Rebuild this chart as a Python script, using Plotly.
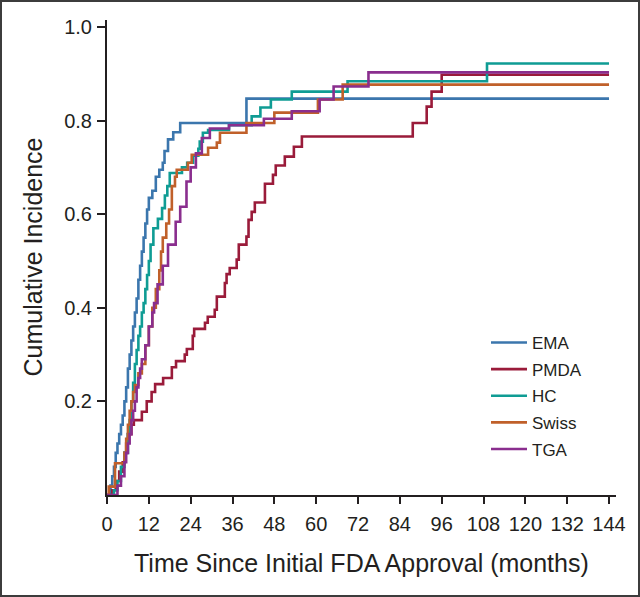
import plotly.graph_objects as go

# ---- data (months since FDA approval, cumulative incidence) ----
ema_t = [0, 1, 1.5, 2, 2.5, 3, 3.5, 4, 4.5, 5, 5.5, 6, 6.5, 7, 7.5, 8, 8.5, 9, 9.5, 10, 10.5, 11, 11.5, 12, 13, 14, 15, 16, 16.5, 17.5, 19, 21, 40, 144]
ema_v = [0, 0.02, 0.04, 0.06, 0.09, 0.11, 0.13, 0.15, 0.17, 0.2, 0.23, 0.27, 0.3, 0.33, 0.36, 0.39, 0.42, 0.46, 0.49, 0.52, 0.55, 0.58, 0.61, 0.635, 0.65, 0.68, 0.695, 0.71, 0.735, 0.76, 0.775, 0.795, 0.847, 0.847]

pmda_t = [0, 1.5, 2.5, 3.5, 4.5, 5, 5.5, 6, 7, 7.7, 10, 11.4, 12.8, 13.8, 16.1, 18.6, 19.8, 22.3, 22.9, 24.6, 25, 28.1, 28.9, 30.9, 31.5, 33.8, 34.3, 35.2, 37.2, 37.8, 40, 40.6, 41.5, 42.4, 45.3, 47.6, 48.4, 51, 53.6, 55.9, 87.7, 91.7, 93.1, 96, 144]
pmda_v = [0, 0.01, 0.03, 0.05, 0.07, 0.09, 0.11, 0.13, 0.15, 0.16, 0.178, 0.2, 0.22, 0.237, 0.25, 0.273, 0.286, 0.3, 0.312, 0.34, 0.355, 0.368, 0.381, 0.396, 0.424, 0.453, 0.472, 0.485, 0.503, 0.535, 0.552, 0.588, 0.605, 0.625, 0.665, 0.684, 0.704, 0.723, 0.744, 0.766, 0.795, 0.83, 0.862, 0.898, 0.898]

hc_t = [0, 2, 3, 4, 5, 6, 6.5, 7, 7.5, 8, 8.5, 9, 9.5, 10, 10.5, 11, 11.5, 12, 12.5, 13.3, 14.6, 15.8, 16.6, 17.3, 18, 21.5, 23, 24.7, 26.2, 26.6, 27.5, 29, 35, 41.5, 44, 47, 53, 69, 109, 144]
hc_v = [0, 0.01, 0.03, 0.06, 0.09, 0.13, 0.16, 0.2, 0.24, 0.28, 0.31, 0.34, 0.36, 0.39, 0.41, 0.44, 0.47, 0.5, 0.535, 0.57, 0.59, 0.613, 0.64, 0.66, 0.688, 0.70, 0.71, 0.725, 0.74, 0.755, 0.774, 0.78, 0.79, 0.809, 0.828, 0.845, 0.862, 0.884, 0.922, 0.922]

swiss_t = [0, 0.5, 2.3, 5, 5.5, 6, 6.5, 7, 7.5, 8, 9, 10, 11, 12, 13, 14, 15, 15.5, 16, 17, 17.8, 18.6, 19.5, 20, 23.2, 24.3, 29, 31.5, 32.4, 40, 48, 60.5, 67.6, 144]
swiss_v = [0, 0.018, 0.068, 0.09, 0.12, 0.15, 0.18, 0.2, 0.22, 0.235, 0.26, 0.28, 0.32, 0.36, 0.4, 0.44, 0.48, 0.52, 0.55, 0.58, 0.61, 0.66, 0.68, 0.695, 0.71, 0.727, 0.742, 0.753, 0.774, 0.795, 0.817, 0.845, 0.877, 0.877]

tga_t = [0, 3, 4, 5, 5.5, 6, 6.5, 7, 7.5, 8, 8.5, 9, 9.5, 10, 11, 12, 13, 13.5, 14.5, 16, 17.5, 19.7, 21, 22.8, 24, 25.5, 27.2, 29.5, 35, 45, 53, 61, 65, 75, 144]
tga_v = [0, 0.02, 0.04, 0.07, 0.09, 0.11, 0.13, 0.16, 0.18, 0.2, 0.23, 0.25, 0.27, 0.29, 0.32, 0.36, 0.39, 0.41, 0.45, 0.49, 0.535, 0.584, 0.616, 0.67, 0.70, 0.73, 0.763, 0.783, 0.79, 0.804, 0.82, 0.845, 0.873, 0.903, 0.903]

series_names = ["EMA", "PMDA", "HC", "Swiss", "TGA"]
series_t = [ema_t, pmda_t, hc_t, swiss_t, tga_t]
series_v = [ema_v, pmda_v, hc_v, swiss_v, tga_v]
series_colors = ["#3b76ad", "#9a1b3a", "#0f9c94", "#c0602a", "#8a2e8e"]

x_ticks = [0, 12, 24, 36, 48, 60, 72, 84, 96, 108, 120, 132, 144]
y_ticks = [0.2, 0.4, 0.6, 0.8, 1.0]
y_tick_labels = ["0.2", "0.4", "0.6", "0.8", "1.0"]

# ---- layout geometry (pixels) ----
W, H = 640, 597
ML, MR, MT, MB = 107, 24, 20, 102
PW, PH = W - ML - MR, H - MT - MB


def px_x(p):
    return (p - ML) / PW


def px_y(p):
    return (H - MB - p) / PH


FONT = "Liberation Sans, Arial, sans-serif"
INK = "#231f20"

fig = go.Figure()
for name, t, v, c in zip(series_names, series_t, series_v, series_colors):
    fig.add_trace(go.Scatter(
        x=t, y=v, mode="lines", name=name,
        line=dict(color=c, width=2.6, shape="hv"),
        legendgroup=name,
    ))

fig.update_layout(
    width=W, height=H,
    margin=dict(l=ML, r=MR, t=MT, b=MB, pad=0),
    paper_bgcolor="white", plot_bgcolor="white",
    font=dict(family=FONT, color=INK),
    showlegend=True,
    legend=dict(
        x=px_x(486), y=px_y(325), xanchor="left", yanchor="top",
        font=dict(size=17, family=FONT, color=INK),
        bgcolor="rgba(0,0,0,0)", borderwidth=0,
        itemwidth=36, tracegroupgap=1.5, traceorder="grouped",
    ),
    xaxis=dict(
        range=[0, 146], tickvals=x_ticks, ticktext=[str(v) for v in x_ticks],
        showgrid=False, zeroline=False, showline=True, linecolor=INK, linewidth=2,
        ticks="outside", ticklen=7, tickwidth=2, tickcolor=INK,
        ticklabelstandoff=3,
        tickfont=dict(size=20, family=FONT, color=INK),
    ),
    yaxis=dict(
        range=[0, 1.015], tickvals=y_ticks, ticktext=y_tick_labels,
        showgrid=False, zeroline=False, showline=True, linecolor=INK, linewidth=2,
        ticks="outside", ticklen=8, tickwidth=2, tickcolor=INK,
        ticklabelstandoff=1,
        tickfont=dict(size=20, family=FONT, color=INK),
    ),
    annotations=[
        dict(text="Time Since Initial FDA Approval (months)", xref="paper", yref="paper",
             x=0.5, y=px_y(563), xanchor="center", yanchor="middle", showarrow=False,
             font=dict(size=25, family=FONT, color=INK)),
        dict(text="Cumulative Incidence", xref="paper", yref="paper",
             x=px_x(32), y=0.5, xanchor="center", yanchor="middle", showarrow=False,
             textangle=-90, font=dict(size=25, family=FONT, color=INK)),
    ],
    shapes=[
        dict(type="rect", xref="paper", yref="paper",
             x0=px_x(1), x1=px_x(639), y0=px_y(596), y1=px_y(1),
             line=dict(color="#3c3c3c", width=2), fillcolor="rgba(0,0,0,0)"),
    ],
)

fig.write_html(
    "out.html",
    config={"displayModeBar": False},
    post_script="document.body.style.margin='0';document.body.style.padding='0';",
)
